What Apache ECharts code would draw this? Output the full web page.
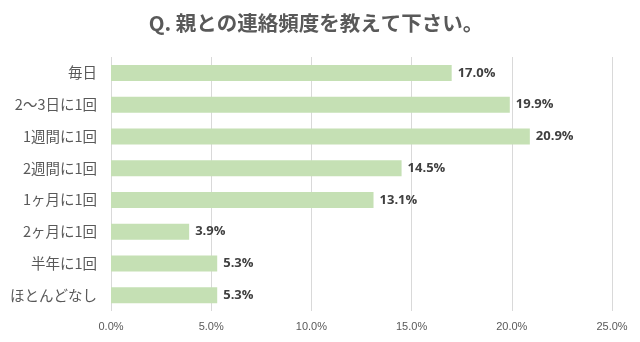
<!DOCTYPE html>
<html>
<head>
<meta charset="utf-8">
<script src="https://cdn.jsdelivr.net/npm/echarts@6/dist/echarts.min.js"></script>
<style>
  html, body { margin: 0; padding: 0; background: #ffffff; }
  #chart { width: 640px; height: 342px; }
</style>
</head>
<body>
<div id="chart"></div>
<script>
// Survey: how often respondents contact their parents (share of answers, %)
const categories = ['毎日', '2～3日に1回', '1週間に1回', '2週間に1回', '1ヶ月に1回', '2ヶ月に1回', '半年に1回', 'ほとんどなし'];
const shares = [17.0, 19.9, 20.9, 14.5, 13.1, 3.9, 5.3, 5.3];
const axisMax = 25;
const axisStep = 5;

const chart = echarts.init(document.getElementById('chart'), null, { renderer: 'canvas' });

chart.setOption({
  backgroundColor: '#ffffff',
  animation: false,
  title: {
    text: 'Q. 親との連絡頻度を教えて下さい。',
    left: 311,
    textAlign: 'center',
    top: 8,
    textStyle: {
      fontFamily: '"Noto Sans CJK JP", "Noto Sans", sans-serif',
      fontSize: 20.5,
      fontWeight: 'bold',
      color: '#595959'
    }
  },
  grid: { left: 111, right: 28, top: 57, height: 254, containLabel: false },
  xAxis: {
    type: 'value',
    min: 0,
    max: axisMax,
    interval: axisStep,
    axisLine: { show: false },
    axisTick: { show: false },
    splitLine: { show: true, lineStyle: { color: '#d9d9d9', width: 1 } },
    axisLabel: {
      margin: 10,
      color: '#595959',
      fontSize: 11,
      fontFamily: '"Liberation Sans", "Noto Sans", sans-serif',
      formatter: v => v.toFixed(1) + '%'
    }
  },
  yAxis: {
    type: 'category',
    data: categories,
    inverse: true,
    axisLine: { show: false },
    axisTick: { show: false },
    axisLabel: {
      margin: 14,
      color: '#595959',
      fontSize: 14.5,
      fontFamily: '"Noto Sans CJK JP", "Noto Sans", sans-serif'
    }
  },
  series: [{
    type: 'bar',
    data: shares,
    barWidth: 16,
    itemStyle: { color: '#c5e0b4' },
    label: {
      show: true,
      position: 'right',
      distance: 6,
      color: '#404040',
      fontSize: 13,
      fontWeight: 'bold',
      fontFamily: '"Open Sans", "Noto Sans", sans-serif',
      formatter: p => p.value.toFixed(1) + '%'
    }
  }]
});
</script>
</body>
</html>
